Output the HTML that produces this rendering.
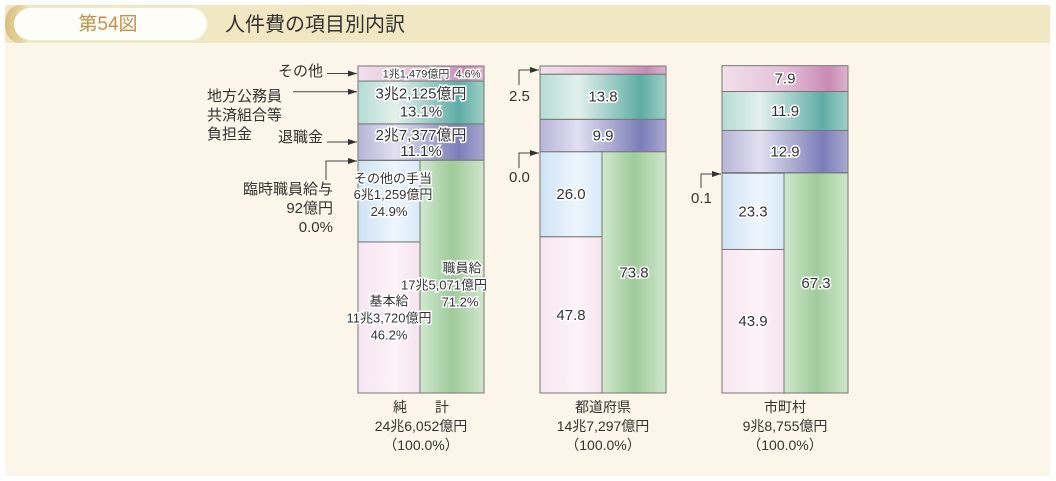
<!DOCTYPE html>
<html><head><meta charset="utf-8">
<style>
body{margin:0;background:#fff;font-family:"Liberation Sans","Noto Sans CJK JP",sans-serif;}
#wrap{position:relative;width:1056px;height:481px;overflow:hidden;background:#fff;}
svg text{font-family:"Liberation Sans","Noto Sans CJK JP",sans-serif;fill:#333;}
</style></head>
<body>
<div id="wrap">
<svg id="chart" width="1056" height="481">
<defs>
<linearGradient id="gPink" x1="0" x2="1"><stop offset="0" stop-color="#f2e0ec"/><stop offset="0.5" stop-color="#e4c0d8"/><stop offset="0.85" stop-color="#c98ab4"/><stop offset="1" stop-color="#ddb5cf"/></linearGradient>
<linearGradient id="gTeal" x1="0" x2="1"><stop offset="0" stop-color="#b5dcd3"/><stop offset="0.3" stop-color="#e3f0ec"/><stop offset="0.8" stop-color="#5fada6"/><stop offset="1" stop-color="#9fcfc6"/></linearGradient>
<linearGradient id="gPurple" x1="0" x2="1"><stop offset="0" stop-color="#b7b5d8"/><stop offset="0.3" stop-color="#e2e0f0"/><stop offset="0.8" stop-color="#7b7db8"/><stop offset="1" stop-color="#a9a8d2"/></linearGradient>
<linearGradient id="gBlue" x1="0" x2="1"><stop offset="0" stop-color="#cfe3f5"/><stop offset="0.6" stop-color="#eef6fd"/><stop offset="1" stop-color="#d7e9f7"/></linearGradient>
<linearGradient id="gLpink" x1="0" x2="1"><stop offset="0" stop-color="#f7e6f0"/><stop offset="0.6" stop-color="#fcf3f8"/><stop offset="1" stop-color="#f5e3ee"/></linearGradient>
<linearGradient id="gGreen" x1="0" x2="1"><stop offset="0" stop-color="#d2e8cf"/><stop offset="0.5" stop-color="#9fcb9b"/><stop offset="1" stop-color="#cfe6cb"/></linearGradient>
<linearGradient id="gHead" x1="0" x2="1"><stop offset="0" stop-color="#d9bf7c"/><stop offset="1" stop-color="#f1e3b6"/></linearGradient>
</defs>
<rect x="5" y="44" width="1045" height="432" fill="#fbf6e9"/>
<rect x="5" y="5" width="1045" height="38" fill="#f2e7c3"/>
<rect x="5" y="5" width="30" height="38" rx="17" fill="url(#gHead)"/>
<rect x="14" y="8" width="193" height="32" rx="16" fill="#fffdf7"/>
<text x="108" y="30" font-size="19" text-anchor="middle" style="fill:#c0914a">第54図</text>
<text x="225" y="31" font-size="20" style="fill:#333">人件費の項目別内訳</text>
<g id="bars"></g>
<g id="annot"></g>
</svg>
</div>
<script>
const categories=["純　　計","都道府県","市町村"];
const totals=["24兆6,052億円","14兆7,297億円","9兆8,755億円"];
const kihon=[46.2,47.8,43.9];
const sonota_teate=[24.9,26.0,23.3];
const shokuinkyu=[71.2,73.8,67.3];
const rinji=[0.0,0.0,0.1];
const taishoku=[11.1,9.9,12.9];
const kyosai=[13.1,13.8,11.9];
const sonota=[4.6,2.5,7.9];
const barLeft=[358,540,722];
const barW=126;
const yTop=66,yBot=393;
const NS="http://www.w3.org/2000/svg";
function y(p){return yBot-p/100*(yBot-yTop);}
const g=document.getElementById('bars');
function rect(x,y0,w,h,fill,name){
 const r=document.createElementNS(NS,'rect');
 r.setAttribute('x',x);r.setAttribute('y',y0);r.setAttribute('width',w);r.setAttribute('height',Math.max(h,0));
 r.setAttribute('fill',fill);r.setAttribute('stroke','#777');r.setAttribute('stroke-width','1');
 
 
 g.appendChild(r);return r;
}
function txt(x,y0,s,size,name,anchor){
 const t=document.createElementNS(NS,'text');
 t.setAttribute('x',x);t.setAttribute('y',y0);t.setAttribute('font-size',size||14);
 t.setAttribute('text-anchor',anchor||'middle');
 t.setAttribute('stroke','#fff');t.setAttribute('stroke-width','3');t.setAttribute('paint-order','stroke');
 t.textContent=s;
 
 
 g.appendChild(t);return t;
}
for(let i=0;i<3;i++){
 const x=barLeft[i];
 const split=x+Math.round(barW*0.49);
 // left column
 rect(x,y(kihon[i]),split-x,y(0)-y(kihon[i]),'url(#gLpink)','bar-kihonkyu-'+i);
 const l2=kihon[i]+sonota_teate[i];
 rect(x,y(l2),split-x,y(kihon[i])-y(l2),'url(#gBlue)','bar-sonota-teate-'+i);
 rect(split,y(shokuinkyu[i]),x+barW-split,y(0)-y(shokuinkyu[i]),'url(#gGreen)','bar-shokuinkyu-'+i);
 let c=shokuinkyu[i]+rinji[i];
 rect(x,y(c+taishoku[i]),barW,y(c)-y(c+taishoku[i]),'url(#gPurple)','bar-taishokukin-'+i);
 const cT=c+taishoku[i];
 rect(x,y(cT+kyosai[i]),barW,y(cT)-y(cT+kyosai[i]),'url(#gTeal)','bar-kyosai-'+i);
 const cK=cT+kyosai[i];
 rect(x,y(cK+sonota[i]),barW,y(cK)-y(cK+sonota[i]),'url(#gPink)','bar-sonota-'+i);
 const mid=x+barW/2, lm=(x+split)/2, rm=(split+x+barW)/2;
 if(i===0){
  txt(lm,y(kihon[i]/2)-12,'基本給',13,'label-kihonkyu');
  txt(lm,y(kihon[i]/2)+5,'11兆3,720億円',13,'label-kihonkyu-amount');
  txt(lm,y(kihon[i]/2)+22,kihon[i].toFixed(1)+'%',13,'label-kihonkyu-pct');
  txt(lm+4,y(kihon[i]+sonota_teate[i]/2)-18,'その他の手当',13,'label-sonota-teate');
  txt(lm+4,y(kihon[i]+sonota_teate[i]/2)-2,'6兆1,259億円',13,'label-sonota-teate-amount');
  txt(lm,y(kihon[i]+sonota_teate[i]/2)+15,sonota_teate[i].toFixed(1)+'%',13,'label-sonota-teate-pct');
  txt(rm+10,y(shokuinkyu[i]/2)-4,'職員給',13,'label-shokuinkyu');
  txt(rm-8,y(shokuinkyu[i]/2)+13,'17兆5,071億円',13,'label-shokuinkyu-amount');
  txt(rm+8,y(shokuinkyu[i]/2)+30,shokuinkyu[i].toFixed(1)+'%',13,'label-shokuinkyu-pct');
  txt(mid,y(c+taishoku[i]/2)-2,'2兆7,377億円',15,'label-taishokukin-amount');
  txt(mid,y(c+taishoku[i]/2)+14,taishoku[i].toFixed(1)+'%',15,'label-taishokukin-pct');
  txt(mid,y(cT+kyosai[i]/2)-4,'3兆2,125億円',15,'label-kyosai-amount');
  txt(mid,y(cT+kyosai[i]/2)+14,kyosai[i].toFixed(1)+'%',15,'label-kyosai-pct');
  txt(x+58,y(cK+sonota[i]/2)+4,'1兆1,479億円',11,'label-sonota-amount');
  txt(x+110,y(cK+sonota[i]/2)+4,sonota[i].toFixed(1)+'%',11,'label-sonota-pct');
 } else {
  txt(lm,y(kihon[i]/2)+5,kihon[i].toFixed(1),15,'label-kihonkyu-'+i);
  txt(lm,y(kihon[i]+sonota_teate[i]/2)+5,sonota_teate[i].toFixed(1),15,'label-sonota-teate-'+i);
  txt(rm,y(shokuinkyu[i]/2)+5,shokuinkyu[i].toFixed(1),15,'label-shokuinkyu-'+i);
  txt(mid,y(c+taishoku[i]/2)+5,taishoku[i].toFixed(1),15,'label-taishokukin-'+i);
  txt(mid,y(cT+kyosai[i]/2)+5,kyosai[i].toFixed(1),15,'label-kyosai-'+i);
  if(sonota[i]>5) txt(mid,y(cK+sonota[i]/2)+5,sonota[i].toFixed(1),15,'label-sonota-'+i);
 }
 // category labels
 const t1=document.createElementNS(NS,'text');
 t1.setAttribute('x',mid);t1.setAttribute('y',412);t1.setAttribute('font-size',14);t1.setAttribute('text-anchor','middle');
 t1.textContent=categories[i];
 
 
 g.appendChild(t1);
 const t2=document.createElementNS(NS,'text');
 t2.setAttribute('x',mid);t2.setAttribute('y',431);t2.setAttribute('font-size',14);t2.setAttribute('text-anchor','middle');
 t2.textContent=totals[i];
 
 
 g.appendChild(t2);
 const t3=document.createElementNS(NS,'text');
 t3.setAttribute('x',mid);t3.setAttribute('y',450);t3.setAttribute('font-size',14);t3.setAttribute('text-anchor','middle');
 t3.textContent='（100.0%）';
 
 
 g.appendChild(t3);
}
// annotations
const a=document.getElementById('annot');
function line(pts,name,arrow){
 const p=document.createElementNS(NS,'polyline');
 p.setAttribute('points',pts.map(q=>q.join(',')).join(' '));
 p.setAttribute('fill','none');p.setAttribute('stroke','#444');p.setAttribute('stroke-width','1');
 
 
 a.appendChild(p);
 const e=pts[pts.length-1];
 const h=document.createElementNS(NS,'polygon');
 h.setAttribute('points',`${e[0]},${e[1]} ${e[0]-9},${e[1]-3} ${e[0]-9},${e[1]+3}`);
 h.setAttribute('fill','#333');
 
 
 a.appendChild(h);
}
function at(x,y0,s,anchor,name){
 const t=document.createElementNS(NS,'text');
 t.setAttribute('x',x);t.setAttribute('y',y0);t.setAttribute('font-size',15);t.setAttribute('text-anchor',anchor);
 t.textContent=s;
 
 
 a.appendChild(t);
}
const c0=shokuinkyu[0]+rinji[0];
line([[327,y(c0+taishoku[0]+kyosai[0]+sonota[0]/2)],[357,y(c0+taishoku[0]+kyosai[0]+sonota[0]/2)]],'arrow-sonota');
at(323,76,'その他','end','annot-sonota');
line([[293,y(c0+taishoku[0]+kyosai[0]*0.75)],[357,y(c0+taishoku[0]+kyosai[0]*0.75)]],'arrow-kyosai');
at(207,101,'地方公務員','start','annot-kyosai-1');
at(207,120,'共済組合等','start','annot-kyosai-2');
at(207,139,'負担金','start','annot-kyosai-3');
line([[327,y(c0+taishoku[0]/2)],[357,y(c0+taishoku[0]/2)]],'arrow-taishokukin');
at(323,142,'退職金','end','annot-taishokukin');
line([[326,180],[326,161],[357,161]],'arrow-rinji');
at(333,194,'臨時職員給与','end','annot-rinji');
at(333,213,'92億円','end','annot-rinji-amount');
at(333,232,'0.0%','end','annot-rinji-pct');
const c1=shokuinkyu[1]+rinji[1]+taishoku[1]+kyosai[1];
line([[519,85],[519,70],[539,70]],'arrow-sonota-pref');
at(509,101,sonota[1].toFixed(1),'start','annot-sonota-pref');
line([[519,168],[519,153],[539,153]],'arrow-rinji-pref');
at(509,182,rinji[1].toFixed(1),'start','annot-rinji-pref');
line([[701,188],[701,174],[721,174]],'arrow-rinji-muni');
at(691,203,rinji[2].toFixed(1),'start','annot-rinji-muni');
</script>
</body></html>
